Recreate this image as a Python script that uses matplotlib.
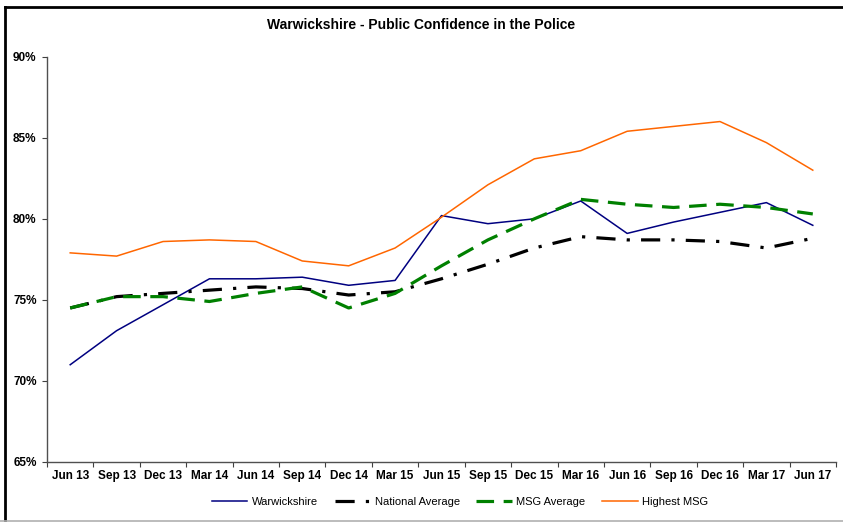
import matplotlib.pyplot as plt
from matplotlib.lines import Line2D
from matplotlib.ticker import FuncFormatter, FixedLocator

plt.rcParams['font.family'] = ['Liberation Sans', 'DejaVu Sans']

# --- DATA ---
quarters = ["Jun 13", "Sep 13", "Dec 13", "Mar 14", "Jun 14", "Sep 14", "Dec 14", "Mar 15",
            "Jun 15", "Sep 15", "Dec 15", "Mar 16", "Jun 16", "Sep 16", "Dec 16", "Mar 17", "Jun 17"]
warwickshire = [71.0, 73.1, 74.7, 76.3, 76.3, 76.4, 75.9, 76.2,
                80.2, 79.7, 80.0, 81.1, 79.1, 79.8, 80.4, 81.0, 79.6]
national_avg = [74.5, 75.2, 75.4, 75.6, 75.8, 75.7, 75.3, 75.5,
                76.3, 77.2, 78.2, 78.9, 78.7, 78.7, 78.6, 78.2, 78.8]
msg_avg = [74.5, 75.2, 75.2, 74.9, 75.4, 75.8, 74.5, 75.4,
           77.1, 78.7, 80.0, 81.2, 80.9, 80.7, 80.9, 80.7, 80.3]
highest_msg = [77.9, 77.7, 78.6, 78.7, 78.6, 77.4, 77.1, 78.2,
               80.1, 82.1, 83.7, 84.2, 85.4, 85.7, 86.0, 84.7, 83.0]
y_ticks = [65, 70, 75, 80, 85, 90]

# --- FIGURE ---
fig = plt.figure(figsize=(8.43, 5.22), dpi=100)
ax = fig.add_axes([47 / 843, 1 - 462 / 522, (836 - 47) / 843, (462 - 56.7) / 522])

x = list(range(len(quarters)))
ax.plot(x, warwickshire, color='#000080', lw=1.1, label='Warwickshire')
ax.plot(x, national_avg, color='black', lw=2.3, dashes=(6, 3.5, 1, 3.5), label='National Average')
ax.plot(x, msg_avg, color='#008000', lw=2.3, dashes=(5.5, 3), label='MSG Average')
ax.plot(x, highest_msg, color='#FF6600', lw=1.1, label='Highest MSG')

ax.set_xlim(-0.5, len(quarters) - 0.5)
ax.set_ylim(65, 90)

# category labels sit between the tick marks, Excel style
ax.xaxis.set_major_locator(FixedLocator([i - 0.5 for i in range(len(quarters) + 1)]))
ax.xaxis.set_minor_locator(FixedLocator(x))
ax.set_xticklabels([])
ax.set_xticklabels(quarters, minor=True, fontsize=8.5, fontweight='bold')
ax.tick_params(axis='x', which='minor', length=0, pad=6)
ax.tick_params(axis='x', which='major', length=3.5, direction='out', color='#404040')

ax.set_yticks(y_ticks)
ax.yaxis.set_major_formatter(FuncFormatter(lambda v, _: f"{v:.0f}%"))
ax.tick_params(axis='y', length=3.5, direction='out', color='#404040', labelsize=8.5, pad=4)
for lbl in ax.get_yticklabels():
    lbl.set_fontweight('bold')

for side in ('top', 'right'):
    ax.spines[side].set_visible(False)
for side in ('left', 'bottom'):
    ax.spines[side].set_color('#505050')
    ax.spines[side].set_linewidth(1.0)

fig.text(0.5, 1 - 25 / 522, "Warwickshire - Public Confidence in the Police",
         ha='center', va='center', fontsize=10, fontweight='bold')

fig.legend(loc='center', bbox_to_anchor=(460 / 843, 1 - 502 / 522), ncol=4,
           frameon=False, fontsize=8, handlelength=3.2, columnspacing=1.5, handletextpad=0.4)

# chart-area border
fig.add_artist(Line2D([4.5 / 843, 4.5 / 843], [0, 1 - 6.5 / 522], transform=fig.transFigure,
                      color='black', lw=2))
fig.add_artist(Line2D([4.5 / 843, 1], [1 - 6.5 / 522, 1 - 6.5 / 522], transform=fig.transFigure,
                      color='black', lw=2))
fig.add_artist(Line2D([0, 1], [1 / 522, 1 / 522], transform=fig.transFigure,
                      color='#b0b0b0', lw=1.2))

fig.savefig('out.png', dpi=100)
